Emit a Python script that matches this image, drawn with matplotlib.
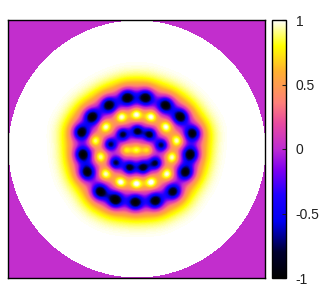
import numpy as np
import matplotlib
matplotlib.use("Agg")
import matplotlib.pyplot as plt
from matplotlib.colors import LinearSegmentedColormap

plt.rcParams['font.family'] = ['Liberation Sans', 'DejaVu Sans']

# spot centres, unit disk coordinates
outer_x = [-0.076, 0.069, 0.222, 0.339, 0.434, 0.416, 0.377, 0.282, 0.144, -0.012, -0.167, -0.289, -0.388, -0.422, -0.434, -0.349, -0.219]
outer_y = [0.400, 0.400, 0.342, 0.252, 0.122, -0.041, -0.182, -0.332, -0.405, -0.415, -0.397, -0.332, -0.182, -0.041, 0.130, 0.252, 0.342]
inner_x = [0.002, 0.100, 0.191, 0.144, 0.048, -0.058, -0.167, -0.206, -0.111]
inner_y = [0.140, 0.114, 0.031, -0.111, -0.145, -0.145, -0.107, 0.037, 0.114]
ring_x = [-0.004, 0.110, 0.227, 0.313, 0.274, 0.235, 0.110, -0.004, -0.128, -0.245, -0.284, -0.328, -0.245, -0.121]
ring_y = [0.270, 0.252, 0.174, 0.065, -0.065, -0.195, -0.259, -0.270, -0.259, -0.195, -0.062, 0.065, 0.174, 0.252]
centre_x = [-0.084, -0.004, 0.079]
centre_y = [-0.008, -0.008, -0.008]
outside_value = 0.02
cbar_ticks = [-1, -0.5, 0, 0.5, 1]
cbar_labels = ['-1', '-0.5', '0', '0.5', '1']

cmap = LinearSegmentedColormap.from_list('field', [
    (0.0, '#000000'), (0.1, '#000030'), (0.22, '#0000f0'), (0.32, '#2000ff'),
    (0.42, '#8000f0'), (0.5, '#be2cd2'), (0.6, '#e84aa0'), (0.68, '#fe7f7a'),
    (0.8, '#ffb030'), (0.9, '#ffff00'), (0.96, '#ffff90'), (1.0, '#ffffff')])


def spots(xs, ys, s):
    out = np.zeros_like(X)
    for a, b in zip(xs, ys):
        out += np.exp(-((X - a)**2 + (Y - b)**2) / (2 * s**2))
    return out


g = np.linspace(-1, 1, 258)
X, Y = np.meshgrid(g, g)
Z = np.ones_like(X)
Z -= 0.62 * spots(outer_x, outer_y, 0.09) + 1.1 * spots(outer_x, outer_y, 0.045)
Z -= 0.42 * spots(inner_x, inner_y, 0.09) + 1.0 * spots(inner_x, inner_y, 0.036)
Z += 0.62 * spots(ring_x, ring_y, 0.033) + 0.5 * spots(centre_x, centre_y, 0.03)
Z = np.clip(Z, -1, 1)
Z[X**2 + Y**2 > 1] = outside_value

fig = plt.figure(figsize=(3.2, 3.0), dpi=100)
ax = fig.add_axes([7.5 / 320, 1 - 278 / 300, 257.5 / 320, 258 / 300])
im = ax.imshow(Z, extent=[-1, 1, -1, 1], origin='lower', cmap=cmap, vmin=-1, vmax=1,
               interpolation='bilinear', aspect='auto')
ax.set_xticks([])
ax.set_yticks([])

cax = fig.add_axes([272 / 320, 1 - 278 / 300, 14 / 320, 258 / 300])
cb = fig.colorbar(im, cax=cax)
cb.set_ticks(cbar_ticks)
cb.set_ticklabels(cbar_labels)
cax.tick_params(direction='in', length=3, width=0.8, labelsize=10, pad=7, colors='#202020')
for s in ax.spines.values():
    s.set_linewidth(1.0)
cb.outline.set_linewidth(1.0)

fig.savefig('out.png', dpi=100)
